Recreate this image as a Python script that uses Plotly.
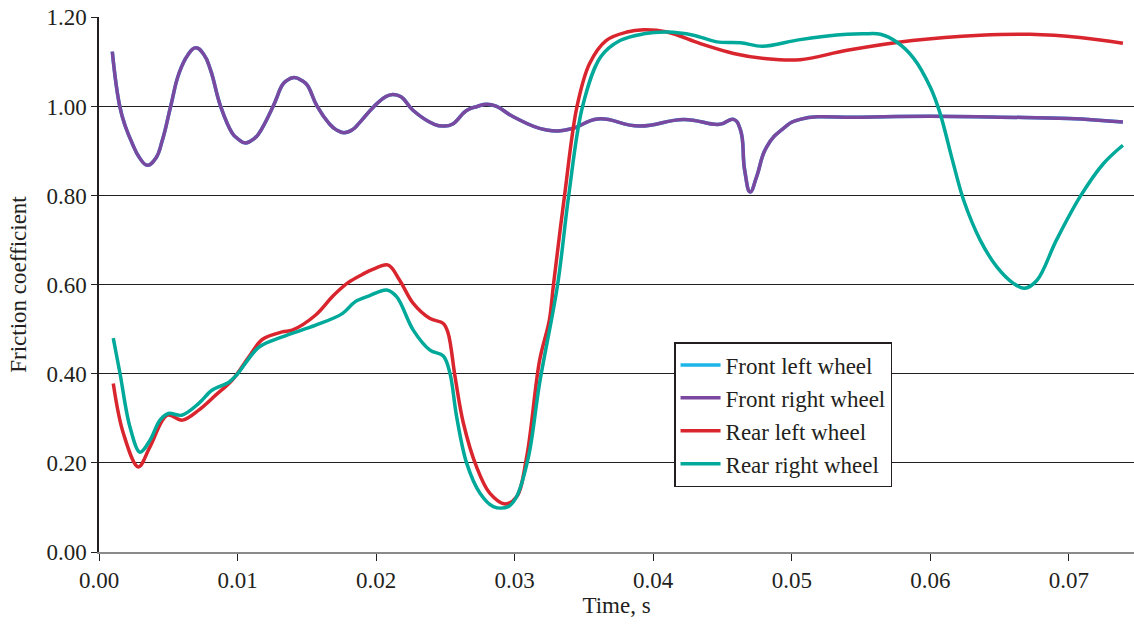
import plotly.graph_objects as go

# Front right wheel (front left wheel identical, drawn beneath it)
t_front = [0.00096, 0.0015, 0.00192, 0.0024, 0.0029, 0.00349, 0.0041, 0.00457, 0.00517, 0.00577,
           0.0064, 0.00698, 0.0076, 0.00806, 0.00878, 0.00962, 0.0100, 0.01058, 0.0112, 0.01155,
           0.01256, 0.01323, 0.0135, 0.01407, 0.0147, 0.01503, 0.01575, 0.0166, 0.0171, 0.01768,
           0.0183, 0.01876, 0.01985, 0.02069, 0.02120, 0.0218, 0.02268, 0.0242, 0.02485, 0.0255,
           0.02653, 0.0273, 0.02798, 0.0287, 0.0299, 0.0323, 0.0341, 0.0360, 0.0390, 0.0422,
           0.0448, 0.0458, 0.0463, 0.0466, 0.0470, 0.04746, 0.04818, 0.0494, 0.0506, 0.055,
           0.060, 0.065, 0.070, 0.0739]
mu_front = [1.123, 1.0, 0.954, 0.917, 0.886, 0.868, 0.884, 0.924, 1.0, 1.074,
            1.115, 1.132, 1.115, 1.081, 1.0, 0.94, 0.928, 0.918, 0.928, 0.94,
            1.0, 1.048, 1.057, 1.065, 1.057, 1.048, 1.0, 0.962, 0.948, 0.941,
            0.948, 0.962, 1.0, 1.022, 1.027, 1.022, 0.991, 0.96, 0.956, 0.96,
            0.991, 1.0, 1.005, 1.0, 0.977, 0.947, 0.950, 0.972, 0.956, 0.971,
            0.960, 0.971, 0.947, 0.857, 0.808, 0.842, 0.909, 0.951, 0.971, 0.976,
            0.978, 0.976, 0.973, 0.965]

# Rear left wheel
t_rl = [0.00103, 0.00175, 0.00284, 0.00368, 0.00493, 0.00601, 0.00722, 0.00842, 0.00962,
        0.01082, 0.01178, 0.01323, 0.01395, 0.01564, 0.0169, 0.018, 0.019, 0.0198, 0.02088,
        0.0217, 0.02268, 0.02389, 0.02485, 0.0252, 0.0257, 0.0263, 0.02725, 0.0282, 0.0293,
        0.03014, 0.03087, 0.0318, 0.0325, 0.0328, 0.0336, 0.0345, 0.0354, 0.0366, 0.0381,
        0.0393, 0.041, 0.0434, 0.0458, 0.0482, 0.0506, 0.054, 0.0587, 0.0636, 0.0672,
        0.0708, 0.0739]
mu_rl = [0.378, 0.267, 0.191, 0.236, 0.307, 0.296, 0.319, 0.352, 0.386,
         0.438, 0.477, 0.494, 0.498, 0.532, 0.575, 0.605, 0.623, 0.635, 0.644,
         0.61, 0.558, 0.524, 0.513, 0.491, 0.393, 0.289, 0.191, 0.132, 0.108,
         0.124, 0.214, 0.43, 0.52, 0.60, 0.80, 1.0, 1.096, 1.148, 1.167,
         1.172, 1.167, 1.141, 1.119, 1.107, 1.105, 1.126, 1.148, 1.16, 1.162,
         1.155, 1.142]

# Rear right wheel
t_rr = [0.00103, 0.00152, 0.00224, 0.00296, 0.00368, 0.0044, 0.0050, 0.00597, 0.00722,
        0.00815, 0.00938, 0.00998, 0.01155, 0.01323, 0.01564, 0.01756, 0.0185, 0.0195,
        0.02076, 0.02148, 0.02268, 0.02389, 0.02485, 0.02533, 0.02581, 0.02654, 0.0275,
        0.02846, 0.02954, 0.03014, 0.0310, 0.0318, 0.0331, 0.0339, 0.0349, 0.0362, 0.0376,
        0.0393, 0.041, 0.0429, 0.0446, 0.0463, 0.0479, 0.0506, 0.054, 0.0552, 0.0564,
        0.0576, 0.0588, 0.0600, 0.0607, 0.0616, 0.0624, 0.0636, 0.0648, 0.066, 0.0668,
        0.0677, 0.0691, 0.0708, 0.0725, 0.0739]
mu_rr = [0.48, 0.40, 0.28, 0.224, 0.251, 0.296, 0.311, 0.307, 0.334,
         0.363, 0.381, 0.399, 0.46, 0.483, 0.509, 0.535, 0.562, 0.575,
         0.588, 0.573, 0.498, 0.453, 0.44, 0.401, 0.304, 0.199, 0.132,
         0.102, 0.102, 0.124, 0.214, 0.379, 0.60, 0.80, 1.0, 1.111, 1.148,
         1.163, 1.167, 1.16, 1.145, 1.143, 1.135, 1.15, 1.162, 1.163, 1.162,
         1.144, 1.108, 1.043, 0.985, 0.879, 0.79, 0.70, 0.64, 0.603, 0.592,
         0.61, 0.70, 0.797, 0.872, 0.913]

y_ticks = [0.0, 0.2, 0.4, 0.6, 0.8, 1.0, 1.2]
y_tick_labels = ["0.00", "0.20", "0.40", "0.60", "0.80", "1.00", "1.20"]
x_ticks = [0.0, 0.01, 0.02, 0.03, 0.04, 0.05, 0.06, 0.07]
x_tick_labels = ["0.00", "0.01", "0.02", "0.03", "0.04", "0.05", "0.06", "0.07"]

LW = 3.5
fig = go.Figure()
fig.add_trace(go.Scatter(x=t_front, y=mu_front, mode="lines", name="Front left wheel",
                         line=dict(color="#1CB5E8", width=LW, shape="spline", smoothing=1.3)))
fig.add_trace(go.Scatter(x=t_front, y=mu_front, mode="lines", name="Front right wheel",
                         line=dict(color="#7B48A0", width=LW, shape="spline", smoothing=1.3)))
fig.add_trace(go.Scatter(x=t_rl, y=mu_rl, mode="lines", name="Rear left wheel",
                         line=dict(color="#D9252E", width=LW, shape="spline", smoothing=1.0)))
fig.add_trace(go.Scatter(x=t_rr, y=mu_rr, mode="lines", name="Rear right wheel",
                         line=dict(color="#00A99A", width=LW, shape="spline", smoothing=1.0)))

font_family = "Liberation Serif, Times New Roman, serif"
FS = 23
fig.update_layout(
    width=1134, height=626,
    margin=dict(l=99, r=0, t=17, b=74),
    plot_bgcolor="white", paper_bgcolor="white",
    font=dict(family=font_family, size=FS, color="#231F20"),
    showlegend=True,
    legend=dict(x=0.5556, y=0.3925, xanchor="left", yanchor="top",
                bgcolor="white", bordercolor="#231F20", borderwidth=1.5,
                font=dict(family=font_family, size=FS, color="#231F20"),
                itemwidth=40, tracegroupgap=0),
    xaxis=dict(range=[0, 0.0747], tickvals=x_ticks, ticktext=x_tick_labels, automargin=False,
               showgrid=False, zeroline=False, showline=True, linecolor="#8a8a8a", linewidth=1.5,
               ticks="outside", ticklen=7, tickcolor="#231F20", tickwidth=1,
               title=dict(text="Time, s", standoff=4, font=dict(size=FS))),
    yaxis=dict(range=[0, 1.2008], tickvals=y_ticks, ticktext=y_tick_labels, automargin=False,
               showgrid=True, gridcolor="#231F20", gridwidth=1, zeroline=False,
               showline=True, linecolor="#231F20", linewidth=1.5,
               ticks="outside", ticklen=6, tickcolor="#231F20", tickwidth=1,
               title=dict(text="Friction coefficient", standoff=13, font=dict(size=FS))),
)

# remove the browser's default 8px page margin so the figure fills the window exactly
fig.write_html("out.html", config={"displayModeBar": False},
               post_script="document.body.style.margin='0';document.body.style.overflow='hidden';")
